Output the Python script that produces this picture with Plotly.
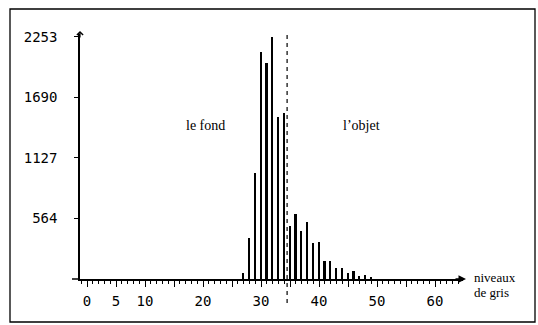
import plotly.graph_objects as go

# ---- data ----
niveaux = [27, 28, 29, 30, 31, 32, 33, 34, 35, 36, 37, 38, 39, 40,
           41, 42, 43, 44, 45, 46, 47, 48, 49]
effectifs = [56, 381, 986, 2112, 2009, 2253, 1507, 1544, 493, 605, 447, 530, 335, 344,
             167, 167, 102, 102, 56, 74, 28, 37, 19]
y_ticks = [564, 1127, 1690, 2253]
y_labels = ["564", "1127", "1690", "2253"]
x_ticks = [0, 5, 10, 15, 20, 25, 30, 35, 40, 45, 50, 55, 60]
x_labels = ["0", "5", "10", "", "20", "", "30", "", "40", "", "50", "", "60"]
seuil = 34.5

# ---- layout geometry (pixels) ----
W, H = 538, 325
L, R = 80, 463          # plot area left/right
T, B = 34, 279          # plot area top/bottom (bottom = y 0)
PX_PER_X = 5.8
X0_PX = 87              # pixel of grey level 0
PX_PER_Y = 0.1075

xr = [(L - X0_PX) / PX_PER_X, (R - X0_PX) / PX_PER_X]
yr = [0, (B - T) / PX_PER_Y]

def px_x(p):
    return (p - L) / (R - L)

def px_y(p):
    return (B - p) / (B - T)

mono = "DejaVu Sans Mono"
serif = "Liberation Serif"

fig = go.Figure()
fig.add_trace(go.Bar(x=niveaux, y=effectifs, width=0.3,
                     marker=dict(color="black", line=dict(width=0))))

fig.update_layout(
    width=W, height=H,
    margin=dict(l=L, r=W - R, t=T, b=H - B, pad=0),
    paper_bgcolor="white", plot_bgcolor="white",
    showlegend=False,
    bargap=0,
)
fig.update_xaxes(
    range=xr, showgrid=False, zeroline=False,
    showline=True, linecolor="black", linewidth=1.5,
    tickmode="array", tickvals=x_ticks, ticktext=x_labels,
    ticks="outside", ticklen=6, tickwidth=1, tickcolor="black",
    minor=dict(dtick=1, tick0=0, ticks="outside", ticklen=3, tickwidth=1, tickcolor="black"),
    tickfont=dict(family=mono, size=14, color="black"),
    ticklabelstandoff=2,
)
fig.update_yaxes(
    range=yr, showgrid=False, zeroline=False,
    showline=True, linecolor="black", linewidth=1.5,
    tickmode="array", tickvals=y_ticks, ticktext=y_labels,
    ticks="outside", ticklen=4, tickwidth=1.2, tickcolor="black",
    tickfont=dict(family=mono, size=14, color="black"),
    ticklabelstandoff=14,
)

# threshold dashed line (extends below axis)
sx = (seuil - xr[0]) / (xr[1] - xr[0])
fig.add_shape(type="line", xref="paper", yref="paper",
              x0=sx, x1=sx, y0=px_y(303), y1=px_y(33),
              line=dict(color="black", width=1.2, dash="4px,4px"))

# x axis extension to the left of y axis
fig.add_shape(type="line", xref="paper", yref="paper",
              x0=px_x(72), x1=0, y0=0, y1=0,
              line=dict(color="black", width=1.5))

# outer frame
fig.add_shape(type="rect", xref="paper", yref="paper",
              x0=px_x(10), x1=px_x(535), y0=px_y(322), y1=px_y(9),
              line=dict(color="black", width=1.3))

# arrows
fig.add_annotation(xref="paper", yref="paper", x=px_x(466), y=0,
                   ax=-12, ay=0, text="", showarrow=True,
                   arrowhead=2, arrowsize=1, arrowwidth=1.5, arrowcolor="black")
fig.add_annotation(xref="paper", yref="paper", x=0, y=px_y(31),
                   ax=0, ay=8, text="", showarrow=True,
                   arrowhead=4, arrowsize=1, arrowwidth=1.2, arrowcolor="black")

# texts
fig.add_annotation(x=20.5, y=(B - 125) / PX_PER_Y, text="le fond", showarrow=False,
                   font=dict(family=serif, size=14, color="black"))
fig.add_annotation(x=47.4, y=(B - 125) / PX_PER_Y, text="l’objet", showarrow=False,
                   font=dict(family=serif, size=14, color="black"))
fig.add_annotation(xref="paper", yref="paper", x=px_x(472), y=px_y(277),
                   xanchor="left", yanchor="middle", text="niveaux", showarrow=False,
                   font=dict(family=serif, size=13, color="black"))
fig.add_annotation(xref="paper", yref="paper", x=px_x(472), y=px_y(292),
                   xanchor="left", yanchor="middle", text="de gris", showarrow=False,
                   font=dict(family=serif, size=13, color="black"))

fig.write_html("out.html",
               config={"displayModeBar": False},
               post_script="document.body.style.margin='0';document.body.style.overflow='hidden';")
